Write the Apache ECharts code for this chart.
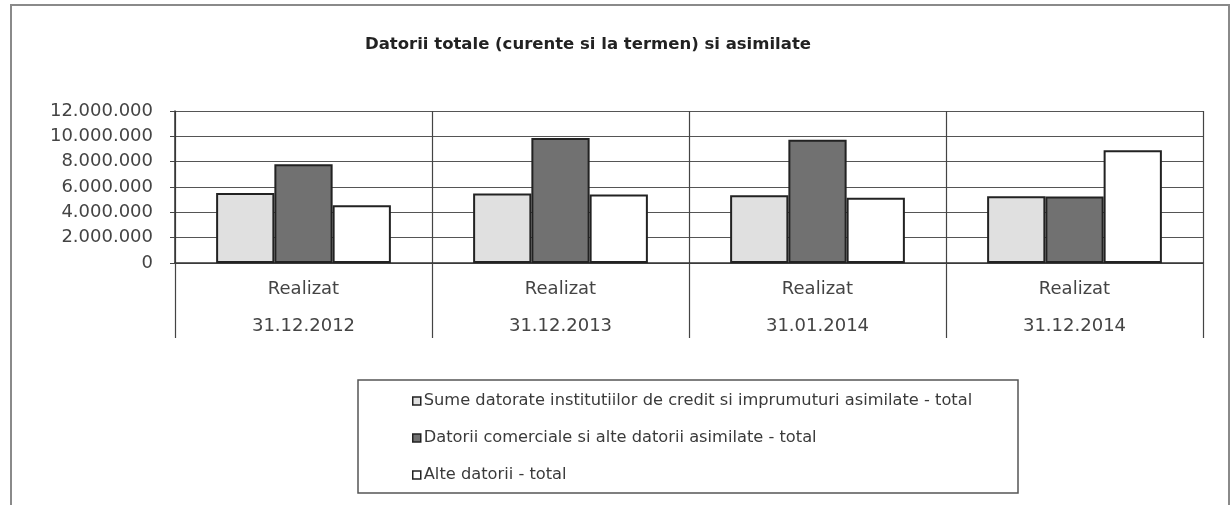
<!DOCTYPE html>
<html>
<head>
<meta charset="utf-8">
<script src="https://cdn.jsdelivr.net/npm/echarts@6/dist/echarts.min.js"></script>
<style>
  html, body { margin: 0; padding: 0; background: #fff; }
  #chart { width: 1230px; height: 505px; }
</style>
</head>
<body>
<div id="chart"></div>
<script>
// categorii (doua randuri de eticheta)
var perioade = ['Realizat\n31.12.2012', 'Realizat\n31.12.2013', 'Realizat\n31.01.2014', 'Realizat\n31.12.2014'];

var numeSerii = [
  'Sume datorate institutiilor de credit si imprumuturi asimilate - total',
  'Datorii comerciale si alte datorii asimilate - total',
  'Alte datorii - total'
];

// valori (aprox.)
var sumeCredit = [5530000, 5480000, 5340000, 5270000];
var datoriiComerciale = [7790000, 9870000, 9740000, 5250000];
var alteDatorii = [4550000, 5400000, 5160000, 8900000];

var culori = ['#e0e0e0', '#717171', '#ffffff'];

function formatRo(v) {
  return String(v).replace(/\B(?=(\d{3})+(?!\d))/g, '.');
}

var chart = echarts.init(document.getElementById('chart'));

function serie(idx, data) {
  return {
    name: numeSerii[idx],
    type: 'bar',
    data: data,
    barGap: '0%',
    barCategoryGap: '32%',
    itemStyle: {
      color: culori[idx],
      borderColor: '#222',
      borderWidth: 2
    },
    animation: false
  };
}

chart.setOption({
  textStyle: { fontFamily: 'DejaVu Sans, sans-serif' },
  title: {
    text: 'Datorii totale (curente si la termen) si asimilate',
    left: 360,
    top: 31,
    textStyle: { fontSize: 16.5, fontWeight: 'bold', color: '#222', fontFamily: 'DejaVu Sans' }
  },
  graphic: [{
    type: 'rect',
    shape: { x: 11, y: 5, width: 1218, height: 510 },
    style: { fill: 'none', stroke: '#8a8a8a', lineWidth: 2 },
    silent: true
  }, {
    type: 'rect',
    shape: { x: 358, y: 380, width: 660, height: 113 },
    style: { fill: 'none', stroke: '#555', lineWidth: 1.5 },
    silent: true
  }],
  legend: {
    orient: 'vertical',
    left: 407,
    top: 387,
    itemWidth: 8,
    itemHeight: 8,
    itemGap: 19,
    icon: 'rect',
    itemStyle: { borderWidth: 1.5, borderColor: '#222' },
    textStyle: { fontSize: 16.25, color: '#3a3a3a', lineHeight: 18, padding: [0, 0, 0, -2] },
    data: numeSerii
  },
  grid: {
    left: 175,
    right: 27,
    top: 111,
    bottom: 242
  },
  xAxis: {
    type: 'category',
    data: perioade,
    axisLine: { lineStyle: { color: '#333', width: 1.5 } },
    axisTick: {
      show: true,
      interval: 0,
      length: 75,
      lineStyle: { color: '#444', width: 1.2 }
    },
    splitLine: {
      show: true,
      interval: 0,
      lineStyle: { color: '#444', width: 1.2 }
    },
    axisLabel: {
      interval: 0,
      margin: 8,
      fontSize: 18,
      lineHeight: 37,
      color: '#444'
    }
  },
  yAxis: {
    type: 'value',
    min: 0,
    max: 12000000,
    interval: 2000000,
    axisLine: { show: true, lineStyle: { color: '#333', width: 1.5 } },
    axisTick: { show: true, length: 5, lineStyle: { color: '#444' } },
    splitLine: { lineStyle: { color: '#555', width: 1.2 } },
    axisLabel: {
      margin: 22,
      fontSize: 18,
      color: '#444',
      formatter: formatRo
    }
  },
  series: [
    serie(0, sumeCredit),
    serie(1, datoriiComerciale),
    serie(2, alteDatorii)
  ]
});
</script>
</body>
</html>
